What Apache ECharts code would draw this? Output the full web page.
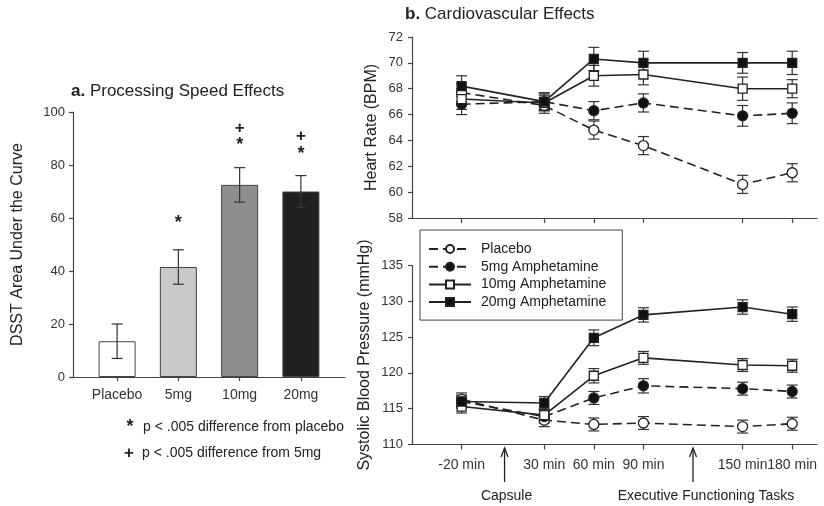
<!DOCTYPE html>
<html>
<head>
<meta charset="utf-8">
<script src="https://cdn.jsdelivr.net/npm/echarts@6/dist/echarts.min.js"></script>
<style>
html,body{margin:0;padding:0;background:#fff;}
#c{width:824px;height:506px;}
</style>
</head>
<body>
<div id="c"></div>
<script>
// ---------- Data ----------
const doseCategories = ['Placebo', '5mg', '10mg', '20mg'];
const dsstValues = [13.5, 41.5, 72.5, 70.0];
const dsstErrors = [6.5, 6.5, 6.5, 6.0];
const dsstColors = ['#ffffff', '#c9c9c9', '#8e8e8e', '#221f20'];
const sigMarks = [[1, 58.0, '*'], [2, 87.5, '*'], [2, 94.0, '+'], [3, 84.3, '*'], [3, 90.7, '+']];
const dsstTicks = [0, 20, 40, 60, 80, 100];

const seriesNames = ['Placebo', '5mg Amphetamine', '10mg Amphetamine', '20mg Amphetamine'];
const times = [-20, 30, 60, 90, 150, 180];
const timeLabels = ['-20 min', '30 min', '60 min', '90 min', '150 min', '180 min'];

const hrPlacebo = [67.7, 66.7, 64.8, 63.6, 60.6, 61.5];
const hrPlaceboErr = [0.7, 0.6, 0.7, 0.7, 0.7, 0.7];
const hr5mg = [66.8, 67.0, 66.3, 66.9, 65.9, 66.1];
const hr5mgErr = [0.8, 0.6, 0.7, 0.7, 0.8, 0.8];
const hr10mg = [67.2, 66.9, 69.0, 69.1, 68.0, 68.0];
const hr10mgErr = [0.8, 0.6, 0.8, 0.8, 0.9, 0.7];
const hr20mg = [68.2, 67.0, 70.3, 70.0, 70.0, 70.0];
const hr20mgErr = [0.8, 0.7, 0.9, 0.9, 0.8, 0.9];

const bpPlacebo = [116.3, 113.4, 112.8, 113.0, 112.5, 112.9];
const bpPlaceboErr = [0.9, 0.9, 0.9, 0.9, 0.9, 0.9];
const bp5mg = [116.0, 113.9, 116.5, 118.2, 117.8, 117.4];
const bp5mgErr = [0.8, 0.9, 0.9, 1.0, 0.9, 0.9];
const bp10mg = [115.3, 114.1, 119.6, 122.1, 121.1, 121.0];
const bp10mgErr = [0.9, 0.9, 1.0, 0.9, 0.9, 0.9];
const bp20mg = [116.0, 115.8, 124.9, 128.1, 129.2, 128.2];
const bp20mgErr = [0.9, 0.9, 1.1, 1.0, 1.0, 1.0];

const eventTimes = [6, 120];
const eventLabels = ['Capsule', 'Executive Functioning Tasks'];

// ---------- Styles ----------
const FONT = '"Liberation Sans", Arial, Helvetica, sans-serif';
const INK = '#222';
const AX = '#444';

const styles = [
  { symbol: 'circle', open: true, dashed: true },
  { symbol: 'circle', open: false, dashed: true },
  { symbol: 'rect', open: true, dashed: false },
  { symbol: 'rect', open: false, dashed: false }
];

function errRender(params, api) {
  const x = api.value(0), lo = api.value(1), hi = api.value(2);
  const a = api.coord([x, lo]), b = api.coord([x, hi]);
  const w = 5.5;
  const st = { stroke: '#333', lineWidth: 1.2, fill: null };
  return {
    type: 'group',
    children: [
      { type: 'line', shape: { x1: a[0], y1: a[1], x2: b[0], y2: b[1] }, style: st },
      { type: 'line', shape: { x1: a[0] - w, y1: a[1], x2: a[0] + w, y2: a[1] }, style: st },
      { type: 'line', shape: { x1: b[0] - w, y1: b[1], x2: b[0] + w, y2: b[1] }, style: st }
    ]
  };
}

function errData(xs, vals, errs) {
  return xs.map((x, i) => [x, vals[i] - errs[i], vals[i] + errs[i]]);
}

function lineSeries(name, idx, vals, axisIdx) {
  const s = styles[idx];
  return {
    type: 'line', name: name, xAxisIndex: axisIdx, yAxisIndex: axisIdx,
    data: times.map((t, i) => [t, vals[i]]),
    symbol: s.symbol, symbolSize: s.symbol === 'rect' ? 9 : 10,
    showSymbol: true, z: 5,
    lineStyle: { color: INK, width: 1.6, type: s.dashed ? [9, 5] : 'solid' },
    itemStyle: { color: s.open ? '#ffffff' : '#111', borderColor: INK, borderWidth: 1.3 },
    emphasis: { disabled: true },
    animation: false
  };
}

function errSeries(vals, errs, axisIdx) {
  return {
    type: 'custom', xAxisIndex: axisIdx, yAxisIndex: axisIdx,
    data: errData(times, vals, errs), renderItem: errRender, z: 3,
    encode: { x: 0, y: [1, 2] }, silent: true, animation: false
  };
}

const axisLineStyle = { show: true, onZero: false, lineStyle: { color: AX, width: 1.2 } };
const tickStyle = { show: true, length: 4, lineStyle: { color: AX, width: 1.2 } };
const labelStyle = { color: '#333', fontSize: 13, fontFamily: FONT };
const xLabelStyle = { color: '#333', fontSize: 14, fontFamily: FONT, hideOverlap: false };
const nameStyle = { color: INK, fontSize: 16, fontFamily: FONT };

const chart = echarts.init(document.getElementById('c'), null, { renderer: 'canvas' });

const option = {
  backgroundColor: '#fff',
  animation: false,
  textStyle: { fontFamily: FONT },
  grid: [
    { left: 73, top: 112, width: 272, height: 265 },
    { left: 412, top: 37, width: 405, height: 181 },
    { left: 412, top: 265.5, width: 405, height: 179 }
  ],
  xAxis: [
    {
      type: 'value', gridIndex: 0, min: -0.72, max: 3.72,
      axisLine: axisLineStyle,
      axisTick: Object.assign({}, tickStyle, { customValues: [0, 1, 2, 3] }),
      axisLabel: Object.assign({}, xLabelStyle, { customValues: [0, 1, 2, 3], margin: 11,
        formatter: v => doseCategories[Math.round(v)] }),
      splitLine: { show: false }
    },
    {
      type: 'value', gridIndex: 1, min: -50, max: 195,
      axisLine: axisLineStyle,
      axisTick: Object.assign({}, tickStyle, { length: 5, customValues: times }),
      axisLabel: { show: false },
      splitLine: { show: false }
    },
    {
      type: 'value', gridIndex: 2, min: -50, max: 195,
      axisLine: axisLineStyle,
      axisTick: Object.assign({}, tickStyle, { length: 5, customValues: times }),
      axisLabel: { show: false },
      splitLine: { show: false }
    }
  ],
  yAxis: [
    {
      type: 'value', gridIndex: 0, min: 0, max: 100, interval: 20,
      name: 'DSST Area Under the Curve', nameLocation: 'middle', nameGap: 47,
      nameTextStyle: nameStyle,
      axisLine: axisLineStyle, axisTick: tickStyle,
      axisLabel: Object.assign({}, labelStyle, { margin: 8 }),
      splitLine: { show: false }
    },
    {
      type: 'value', gridIndex: 1, min: 58, max: 72, interval: 2,
      name: 'Heart Rate (BPM)', nameLocation: 'middle', nameGap: 32,
      nameTextStyle: nameStyle,
      axisLine: axisLineStyle, axisTick: tickStyle,
      axisLabel: Object.assign({}, labelStyle, { margin: 9 }),
      splitLine: { show: false }
    },
    {
      type: 'value', gridIndex: 2, min: 110, max: 135, interval: 5,
      name: 'Systolic Blood Pressure (mmHg)', nameLocation: 'middle', nameGap: 39,
      nameTextStyle: nameStyle,
      axisLine: axisLineStyle, axisTick: tickStyle,
      axisLabel: Object.assign({}, labelStyle, { margin: 9 }),
      splitLine: { show: false }
    }
  ],
  legend: {
    data: seriesNames,
    orient: 'vertical',
    left: 420, top: 230,
    padding: [12, 16, 11, 8],
    itemWidth: 42, itemHeight: 10, itemGap: 3.7,
    backgroundColor: '#fff',
    borderColor: '#444', borderWidth: 1,
    textStyle: { color: INK, fontSize: 14, fontFamily: FONT, padding: [0, 0, 0, 5] },
    selectedMode: false
  },
  series: []
};

// Bars
option.series.push({
  type: 'bar', xAxisIndex: 0, yAxisIndex: 0, barWidth: 37,
  data: dsstValues.map((v, i) => ({ value: [i, v], itemStyle: { color: dsstColors[i] } })),
  itemStyle: { borderColor: '#444', borderWidth: 1 },
  emphasis: { disabled: true }, z: 2
});
option.series.push({
  type: 'custom', xAxisIndex: 0, yAxisIndex: 0,
  data: dsstValues.map((v, i) => [i, v - dsstErrors[i], v + dsstErrors[i]]),
  renderItem: errRender, z: 4, encode: { x: 0, y: [1, 2] }, silent: true
});
option.series.push({
  type: 'custom', xAxisIndex: 0, yAxisIndex: 0,
  data: sigMarks,
  renderItem: function (params, api) {
    const p = api.coord([api.value(0), api.value(1)]);
    const t = sigMarks[params.dataIndex][2];
    return {
      type: 'text', x: p[0], y: p[1],
      style: { text: t, textAlign: 'center', textVerticalAlign: 'middle',
        font: 'bold ' + (t === '*' ? 18 : 17) + 'px ' + FONT, fill: INK }
    };
  },
  encode: { x: 0, y: 1 }, silent: true, z: 4
});

const hrVals = [hrPlacebo, hr5mg, hr10mg, hr20mg];
const hrErrs = [hrPlaceboErr, hr5mgErr, hr10mgErr, hr20mgErr];
const bpVals = [bpPlacebo, bp5mg, bp10mg, bp20mg];
const bpErrs = [bpPlaceboErr, bp5mgErr, bp10mgErr, bp20mgErr];
for (let i = 0; i < 4; i++) {
  option.series.push(errSeries(hrVals[i], hrErrs[i], 1));
  option.series.push(errSeries(bpVals[i], bpErrs[i], 2));
}
for (let i = 0; i < 4; i++) {
  option.series.push(lineSeries(seriesNames[i], i, hrVals[i], 1));
  option.series.push(lineSeries(seriesNames[i], i, bpVals[i], 2));
}

chart.setOption(option);

// Annotations (titles, footnotes, time labels, event arrows)
const graphics = [
  { type: 'text', left: 71, top: 83, style: { text: '{b|a.} Processing Speed Effects',
    font: '17px ' + FONT, fill: INK,
    rich: { b: { font: 'bold 17px ' + FONT, fill: INK } } } },
  { type: 'text', left: 405, top: 6, style: { text: '{b|b.} Cardiovascular Effects',
    font: '17px ' + FONT, fill: INK,
    rich: { b: { font: 'bold 17px ' + FONT, fill: INK } } } },
  { type: 'text', x: 130, y: 427, style: { text: '*', font: 'bold 18px ' + FONT, fill: INK,
    textAlign: 'center', textVerticalAlign: 'middle' } },
  { type: 'text', x: 143, y: 427, style: { text: 'p < .005 difference from placebo', font: '14px ' + FONT,
    fill: INK, textVerticalAlign: 'middle' } },
  { type: 'text', x: 129, y: 453, style: { text: '+', font: 'bold 17px ' + FONT, fill: INK,
    textAlign: 'center', textVerticalAlign: 'middle' } },
  { type: 'text', x: 142, y: 453, style: { text: 'p < .005 difference from 5mg', font: '14px ' + FONT,
    fill: INK, textVerticalAlign: 'middle' } }
];
const axisY = chart.convertToPixel({ yAxisIndex: 2 }, 110);
times.forEach((t, i) => {
  const x = chart.convertToPixel({ xAxisIndex: 2 }, t);
  graphics.push({ type: 'text', x: x, y: axisY + 21, style: { text: timeLabels[i],
    font: '14px ' + FONT, fill: '#333', textAlign: 'center', textVerticalAlign: 'middle' } });
});
const labelOffsets = [2, 13];
eventTimes.forEach((t, i) => {
  const x = chart.convertToPixel({ xAxisIndex: 2 }, t);
  graphics.push({ type: 'line', shape: { x1: x, y1: 448, x2: x, y2: 482 },
    style: { stroke: INK, lineWidth: 1.3 } });
  graphics.push({ type: 'polyline', shape: { points: [[x - 3.5, 457], [x, 448], [x + 3.5, 457]] },
    style: { stroke: INK, lineWidth: 1.3, fill: null } });
  graphics.push({ type: 'text', x: x + labelOffsets[i], y: 496, style: { text: eventLabels[i],
    font: '14px ' + FONT, fill: INK, textAlign: 'center', textVerticalAlign: 'middle' } });
});
chart.setOption({ graphic: graphics });
</script>
</body>
</html>
